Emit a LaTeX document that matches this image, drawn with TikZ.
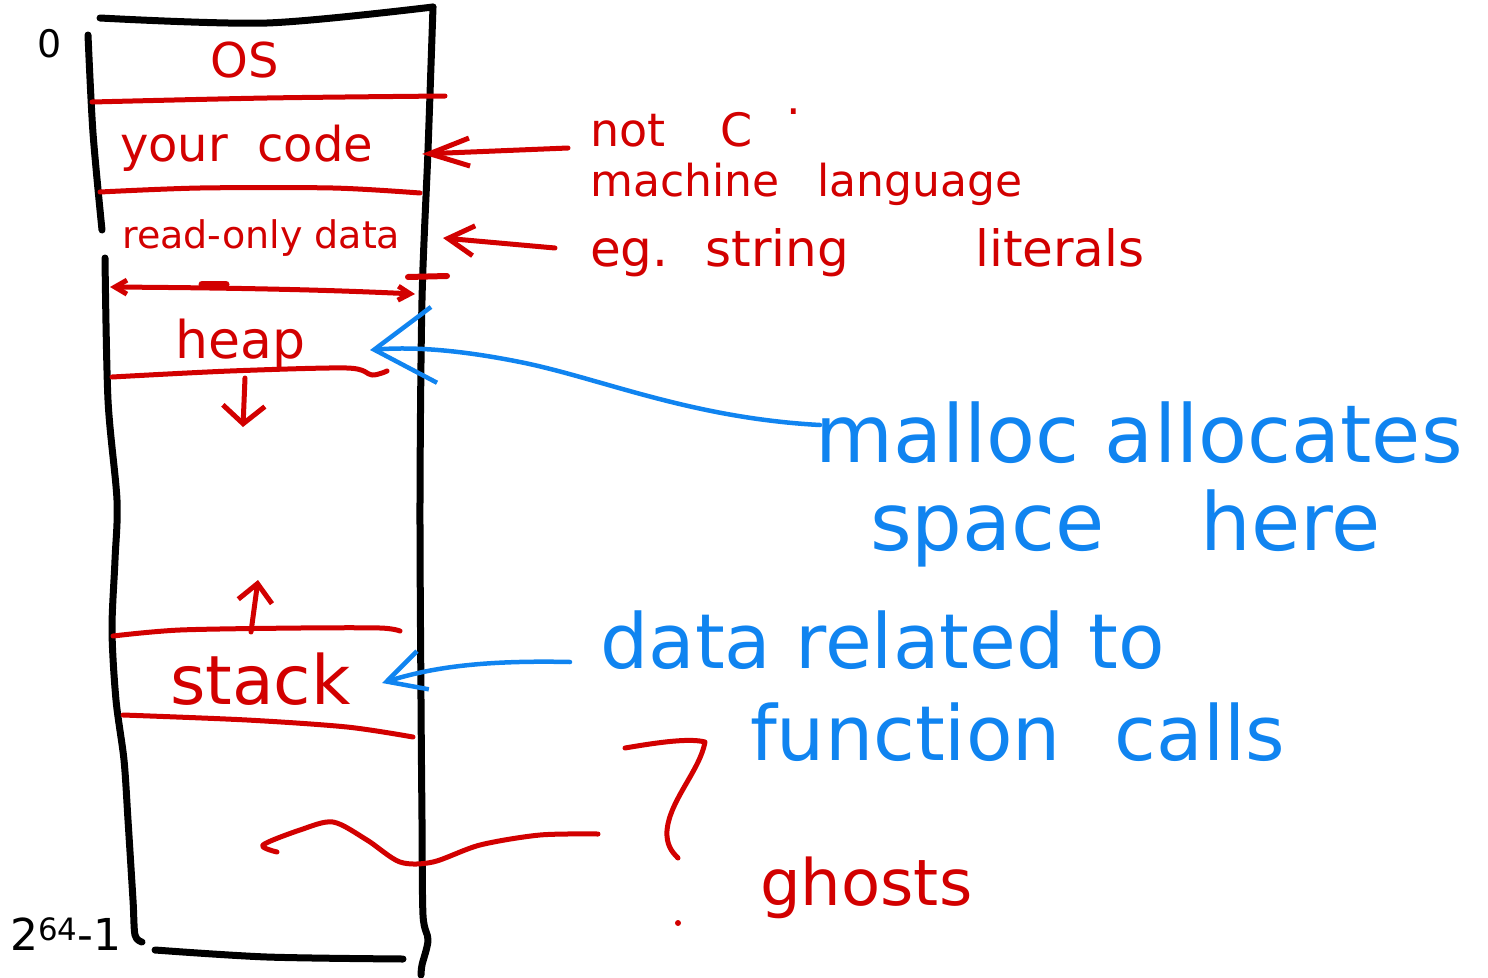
\documentclass[tikz,border=0pt]{standalone}
\usepackage{fontspec}
\setmainfont{DejaVu Sans}
\usetikzlibrary{arrows.meta}
\definecolor{inkred}{RGB}{210,0,0}
\definecolor{inkblue}{RGB}{16,132,240}
\begin{document}
\begin{tikzpicture}[x=1pt,y=-1pt,line cap=round,line join=round,
  wall/.style={line width=7pt,black},
  redpen/.style={line width=5pt,inkred},
  bluepen/.style={line width=4.5pt,inkblue},
  sz/.style={font=\fontsize{#1}{#1}\selectfont},
  txt/.style={inner sep=0pt,anchor=base west},
  redtxt/.style={txt,text=inkred},
  bluetxt/.style={txt,text=inkblue}]
\useasboundingbox (0,0) rectangle (1488,977);

% memory column outline
\draw[wall] plot[smooth,tension=0.5] coordinates {(100,18) (267,23) (433,7)};
\draw[wall] plot[smooth,tension=0.5] coordinates {(433,7) (428,150) (422,300) (420,500) (421,700) (422,820) (423,915) (428,940) (422,965) (421,975)};
\draw[wall] plot[smooth,tension=0.5] coordinates {(88,35) (93,133) (102,230)};
\draw[wall] plot[smooth,tension=0.5] coordinates {(105,258) (108,400) (117,500) (115,560) (112,630) (116,700) (124,760) (128,820) (133,900) (135,935) (142,942)};
\draw[wall] plot[smooth,tension=0.5] coordinates {(155,950) (267,957) (403,959)};

% address labels
\node[txt,sz=38,anchor=center] (zero) at (50,44) {0};
\node[txt,sz=44] (last) at (10,950) {2\textsuperscript{64}-1};

% segment dividers
\draw[redpen] plot[smooth] coordinates {(92,102) (267,98) (445,96)};
\draw[redpen] plot[smooth] coordinates {(100,192) (200,188) (333,188) (420,193)};
\draw[redpen,{Straight Barb[length=12pt,width=14pt]}-{Straight Barb[length=12pt,width=14pt]}] (110,287) .. controls (250,288) and (330,290) .. (415,294);
\draw[redpen,line width=7pt] (202,284) -- (226,284);
\draw[redpen,line width=6pt] (408,277) -- (447,276);
\draw[redpen] plot[smooth] coordinates {(112,377) (230,371) (347,368) (372,375) (387,371)};
\draw[redpen] plot[smooth] coordinates {(113,636) (180,630) (300,628) (380,628) (400,631)};
\draw[redpen] plot[smooth] coordinates {(123,715) (247,720) (347,727) (413,737)};

% growth directions of heap and stack
\draw[redpen,-{Straight Barb[length=18pt,width=42pt]}] (245,378) -- (243,427);
\draw[redpen,-{Straight Barb[length=18pt,width=34pt]}] (251,632) -- (258,580);

% segment names
\node[redtxt,sz=48,anchor=base] (os) at (245,77) {OS};
\node[redtxt,sz=48] (code) at (120,161) {your\hspace{14pt} code};
\node[redtxt,sz=38] (rodata) at (122,248) {read-only data};
\node[redtxt,sz=52] (heap) at (175,358) {heap};
\node[redtxt,sz=68] (stack) at (170,704) {stack};

% notes
\node[redtxt,sz=46] (notc) at (590,146) {not\hspace{40pt} C\hspace{34pt}\raisebox{32pt}{.}};
\node[redtxt,sz=44] (machine) at (590,196) {machine\hspace{24pt} language};
\node[redtxt,sz=50] (literals) at (590,266) {eg.\hspace{16pt} string\hspace{110pt} literals};
\node[redtxt,sz=64] (ghosts) at (760,905) {ghosts};

\node[bluetxt,sz=80] (malloc) at (815,462) {malloc allocates};
\node[bluetxt,sz=80] (space) at (870,550) {space\hspace{70pt} here};
\node[bluetxt,sz=76] (datarel) at (600,668) {data related to};
\node[bluetxt,sz=76] (funcs) at (750,760) {function\hspace{30pt} calls};

% pointers into the column
\coordinate (codeTip) at (422,154);
\coordinate (roTip) at (443,238);
\coordinate (heapTip) at (370,350);
\coordinate (stackTip) at (382,683);

\draw[redpen,-{Straight Barb[length=40pt,width=28pt]}] ([shift={(-22,2)}]notc.base west) -- (codeTip);
\draw[redpen,-{Straight Barb[length=26pt,width=30pt]}] ([shift={(-35,-18)}]literals.base west) -- (roTip);
\draw[bluepen,-{Straight Barb[length=60pt,width=76pt]}] ([shift={(5,-37)}]malloc.base west) .. controls (690,418) and (600,378) .. (520,362) .. controls (470,352) and (420,346) .. (heapTip);
\draw[bluepen,-{Straight Barb[length=38pt,width=40pt]}] ([shift={(-30,-6)}]datarel.base west) .. controls (480,660) and (430,668) .. (stackTip);

% unused space below the stack
\draw[redpen] plot[smooth] coordinates {(277,852) (263,845) (300,830) (333,822) (367,840) (400,862) (433,862) (480,845) (540,835) (598,834)};
\draw[redpen] (625,748) .. controls (660,742) and (690,738) .. (705,742) .. controls (700,770) and (670,800) .. (667,830) .. controls (666,845) and (672,852) .. (678,858);
\fill[inkred] (678,923) circle (3);
\end{tikzpicture}
\end{document}
